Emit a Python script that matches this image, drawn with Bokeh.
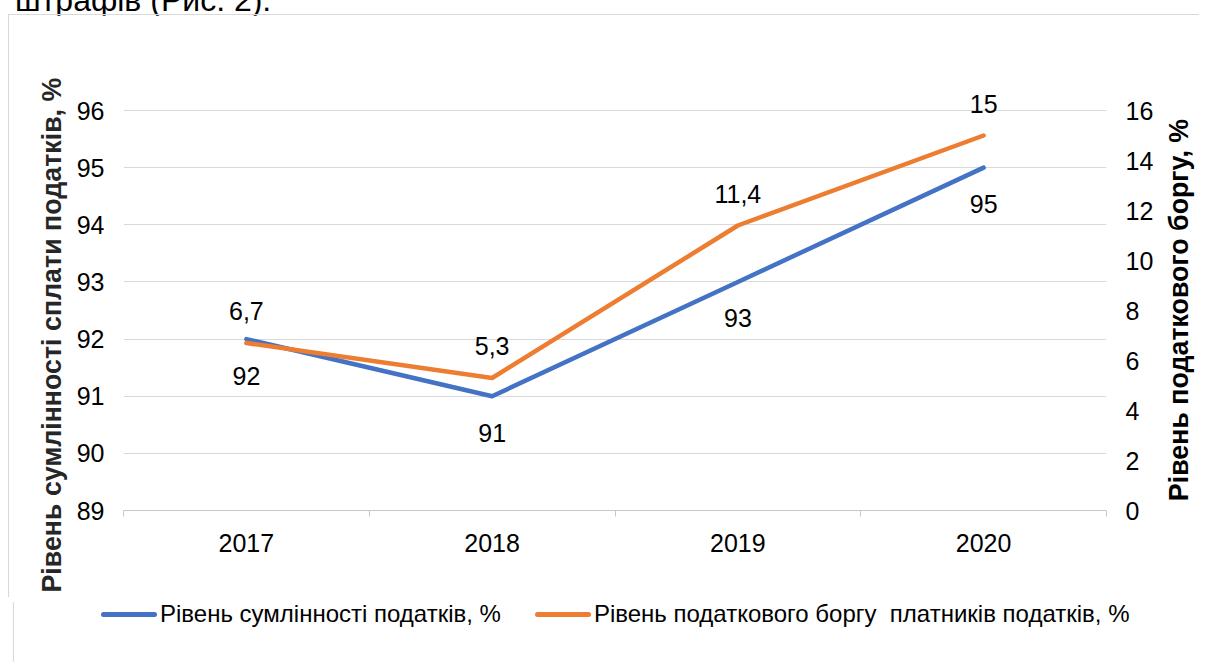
from bokeh.plotting import figure
from bokeh.models import Range1d, LinearAxis, FixedTicker, Div, Title
from bokeh.layouts import column
from bokeh.embed import file_html
from bokeh.resources import INLINE
from bokeh.core.properties import value

years = ["2017", "2018", "2019", "2020"]
compliance = [92, 91, 93, 95]
debt = [6.7, 5.3, 11.4, 15]
compliance_labels = ["92", "91", "93", "95"]
debt_labels = ["6,7", "5,3", "11,4", "15"]
left_ticks = [89, 90, 91, 92, 93, 94, 95, 96]
right_ticks = [0, 2, 4, 6, 8, 10, 12, 14, 16]

left_title = "Рівень сумлінності сплати податків, %"
right_title = "Рівень податкового боргу, %"
legend_blue = "Рівень сумлінності податків, %"
legend_orange = "Рівень податкового боргу  платників податків, %"
caption = "штрафів (Рис. 2)."

FONT = "Liberation Sans"
FS = "25px"
TITLE_FS = "26.8px"
LEG_FS = "24px"
BLUE = "#4472C4"
ORANGE = "#ED7D31"
GRID = "#d9d9d9"
BORDER = "1px solid #d9d9d9"

# ---- layout geometry (pixels) ----
W = 1191
H_MAIN = 583
TOP, LEFT, RIGHT = 75, 114, 94
frame_h = 420
BOTTOM = H_MAIN - TOP - frame_h
grid_h = 400.0                       # height of the 89..96 band
px_left = grid_h / (left_ticks[-1] - left_ticks[0])
px_right = grid_h / (right_ticks[-1] - right_ticks[0])
left_top = left_ticks[0] + frame_h / px_left
right_top = right_ticks[0] + frame_h / px_right

x = [i + 0.5 for i in range(len(years))]
bounds = list(range(len(years) + 1))

p = figure(width=W, height=H_MAIN, x_range=Range1d(0, len(years)),
           y_range=Range1d(left_ticks[0], left_top),
           output_backend="svg", toolbar_location=None,
           min_border_left=LEFT, min_border_right=RIGHT,
           min_border_top=TOP, min_border_bottom=BOTTOM)
p.extra_y_ranges = {"right": Range1d(right_ticks[0], right_top)}
p.outline_line_color = None
p.background_fill_color = "white"
p.border_fill_color = "white"
p.styles = {"border-top": BORDER, "border-left": BORDER}

# x axis: labels centred on categories, ticks on category boundaries
xa = p.xaxis[0]
xa.ticker = FixedTicker(ticks=x, minor_ticks=bounds)
xa.major_label_overrides = {xi: yr for xi, yr in zip(x, years)}
xa.major_tick_out = 0
xa.major_tick_in = 0
xa.minor_tick_out = 6
xa.minor_tick_in = 0
xa.minor_tick_line_color = "#c8c8c8"
xa.axis_line_color = "#c8c8c8"
xa.major_label_standoff = 17
xa.major_label_text_font = FONT
xa.major_label_text_font_size = FS
xa.major_label_text_color = "black"

# left axis
ya = p.yaxis[0]
ya.ticker = FixedTicker(ticks=left_ticks)
ya.axis_line_color = None
ya.major_tick_line_color = None
ya.minor_tick_line_color = None
ya.major_label_standoff = 13
ya.major_label_text_font = FONT
ya.major_label_text_font_size = FS
ya.major_label_text_color = "black"

lt = Title(text=left_title, align="left", offset=-82, standoff=14,
           text_font=FONT, text_font_size=TITLE_FS, text_font_style="bold",
           text_color="#262626")
p.add_layout(lt, "left")

# right axis (its title is set as rotated text in the strip below)
ra = LinearAxis(y_range_name="right", ticker=FixedTicker(ticks=right_ticks))
ra.axis_line_color = None
ra.major_tick_line_color = None
ra.minor_tick_line_color = None
ra.major_label_standoff = 13
ra.major_label_text_font = FONT
ra.major_label_text_font_size = FS
ra.major_label_text_color = "black"
p.add_layout(ra, "right")

p.xgrid.visible = False
p.ygrid.grid_line_color = GRID
p.ygrid.grid_line_width = 1

p.line(x, compliance, line_color=BLUE, line_width=4.5, line_cap="round", line_join="round")
p.line(x, debt, y_range_name="right", line_color=ORANGE, line_width=4.5,
       line_cap="round", line_join="round")

p.text(x, compliance, text=compliance_labels, y_offset=36.5, text_align="center",
       text_baseline="middle", text_font=value(FONT), text_font_size=FS, text_color="black")
p.text(x, debt, text=debt_labels, y_range_name="right", y_offset=-32, text_align="center",
       text_baseline="middle", text_font=value(FONT), text_font_size=FS, text_color="black")

# ---- legend strip (HTML) + right axis title ----
def key(color):
    return ('<span style="display:inline-block;width:56px;height:5px;border-radius:3px;'
            'background:%s;margin-right:3px"></span>' % color)

H_LEG = 60
legend_html = (
    '<div style="position:relative;width:%dpx;height:%dpx">'
    '<div style="position:absolute;left:87px;top:-2px;display:flex;align-items:center;'
    'white-space:pre;font-family:\'Liberation Sans\';font-size:%s;line-height:28px;color:black">'
    '%s<span>%s</span><span style="display:inline-block;width:34px"></span>%s<span>%s</span>'
    '</div>'
    '<div style="position:absolute;left:1165px;top:-292px;white-space:nowrap;'
    'transform:translate(-50%%,-50%%) rotate(-90deg);font-family:\'Liberation Sans\';'
    'font-weight:bold;font-size:%s;line-height:30px;color:black">%s</div>'
    '</div>' % (W, H_LEG, LEG_FS, key(BLUE), legend_blue, key(ORANGE), legend_orange,
                TITLE_FS, right_title)
)
leg = Div(text=legend_html, width=W, height=H_LEG,
          styles={"border-left": BORDER, "overflow": "visible"})

cap = Div(text='<div style="position:relative;top:-27px;left:2px;white-space:nowrap;'
               'font-family:\'Liberation Sans\';font-size:32px;color:black">' + caption + '</div>',
          width=W, height=4, styles={"overflow": "visible"})

layout = column(cap, p, leg, spacing=0, styles={"margin-left": "8px"})
open("out.html", "w").write(file_html(layout, INLINE))
